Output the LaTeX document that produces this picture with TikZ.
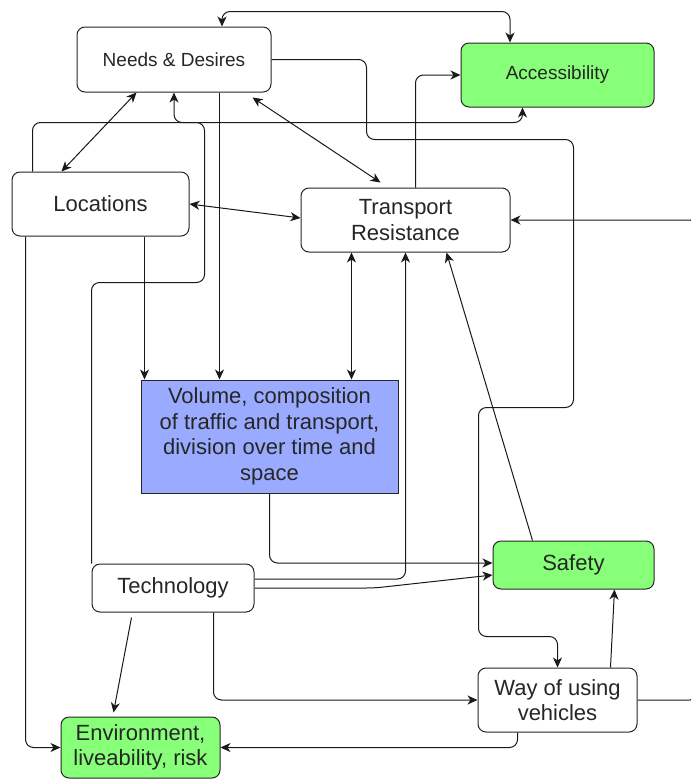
\documentclass[tikz,border=0pt]{standalone}
\usepackage{fontspec}
\setmainfont{Liberation Sans}
\usetikzlibrary{arrows.meta}

\definecolor{boxgreen}{RGB}{136,255,120}
\definecolor{boxblue}{RGB}{154,170,255}

\tikzset{
  box/.style={draw=black!85, line width=1pt, rounded corners=8pt, fill=white,
    inner sep=0pt, align=center, text=black!85, font=\fontsize{22}{25.5}\selectfont},
  greenbox/.style={box, fill=boxgreen},
  link/.style={line width=1pt, draw=black!90, rounded corners=8pt},
}

\begin{document}
\begin{tikzpicture}[x=1pt, y=-1pt, >={Stealth[length=10pt,width=9pt,inset=3pt]}]
    \useasboundingbox (0,0) rectangle (691,780);

    % Caixas
    \node[box, minimum width=194pt, minimum height=65pt, font=\fontsize{19}{22}\selectfont] (needs) at (174,59.5) {Needs \& Desires};
    \node[greenbox, minimum width=193pt, minimum height=64pt, font=\fontsize{19}{22}\selectfont] (access) at (557.5,75) {Accessibility};
    \node[box, minimum width=177pt, minimum height=64pt] (loc) at (100.5,204) {Locations};
    \node[box, minimum width=209pt, minimum height=64pt] (trans) at (405.5,220) {Transport\\Resistance};
    \node[box, sharp corners, fill=boxblue, minimum width=257pt, minimum height=113pt] (vol) at (269.5,436.5) {Volume, composition\\of traffic and transport,\\division over time and\\space};
    \node[box, minimum width=162pt, minimum height=48pt] (tech) at (173,588) {Technology};
    \node[greenbox, minimum width=161pt, minimum height=48pt] (safety) at (573.5,565) {Safety};
    \node[box, minimum width=159pt, minimum height=64pt] (way) at (557.5,700) {Way of using\\vehicles};
    \node[greenbox, minimum width=159pt, minimum height=61pt] (env) at (140.5,747.5) {Environment,\\liveability, risk};

    % Needs & Desires
    \draw[link, <->] ([xshift=48pt]needs.north) -- ++(0,-15) -| ([xshift=-47.5pt]access.north);
    \draw[link, ->] (needs.east) -| ++(95,80) -| ++(207,268) -| ++(-95,229) -| (way.north);
    \draw[link, <->] ([xshift=60pt]needs.south west) -- ([xshift=50pt]loc.north west);
    \draw[link, <->] ([xshift=176pt, yshift=-5pt]needs.south west) -- ([xshift=80pt, yshift=5pt]trans.north west);
    \draw[link, ->] ([xshift=143pt]needs.south west) -- ([xshift=79pt]vol.north west);

    % Locations
    \draw[link, ->] ([xshift=21pt]loc.north west) -- ++(0,-49) -| ([xshift=62pt]access.south west);
    \draw[link, ->] ([xshift=14pt]loc.south west) |- (env.west);
    \draw[link, ->] ([xshift=133pt]loc.south west) -- ([xshift=4pt]vol.north west);
    \draw[link, <->] (loc.east) -- ([yshift=2pt]trans.west);

    % Transport Resistance
    \draw[link, ->] ([xshift=115pt]trans.north west) |- (access.west);
    \draw[link, <->] ([xshift=51pt]trans.south west) -- ([xshift=211pt]vol.north west);
    \draw[link, ->] (way.east) -- ++(60,0) |- (trans.east);

    % Volume
    \draw[link, ->] (vol.south) |- ([yshift=2pt]safety.west);

    % Technology
    \draw[link, ->] (tech.north west) -- ++(0,-281) -| ++(113,-160) -| (needs.south);
    \draw[link, ->] ([yshift=9pt]tech.east) -| (trans.south);
    \draw[link, ->] (tech.east) -- ++(120,0) -- ([yshift=-10pt]safety.west);
    \draw[link, ->] ([xshift=40pt, yshift=-5pt]tech.south west) -- ([xshift=53pt, yshift=4pt]env.north west);
    \draw[link, ->] ([xshift=122pt]tech.south west) |- (way.west);

    % Safety
    \draw[link, ->] ([xshift=40pt]safety.north west) -- ([xshift=146pt]trans.south west);

    % Way of using vehicles
    \draw[link, ->] ([xshift=133pt]way.north west) -- ([xshift=122pt]safety.south west);
    \draw[link, ->] ([xshift=40pt]way.south west) |- (env.east);

\end{tikzpicture}
\end{document}
